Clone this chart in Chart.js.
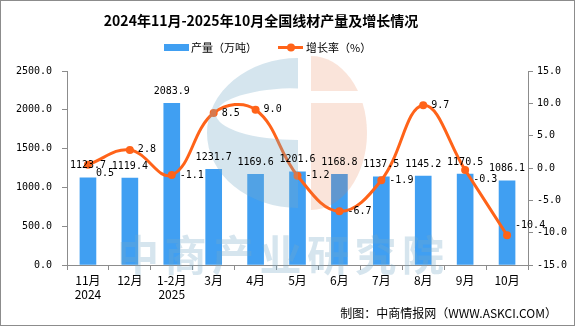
<!DOCTYPE html>
<html lang="zh">
<head>
<meta charset="UTF-8">
<title>全国线材产量及增长情况</title>
<script src="https://cdn.jsdelivr.net/npm/chart.js@4.4.0/dist/chart.umd.min.js"></script>
<style>
  html, body { margin: 0; padding: 0; background: #fff; }
  #wrap { width: 575px; height: 326px; }
</style>
</head>
<body>
<div id="wrap"><canvas id="myChart" width="575" height="326"></canvas></div>
<script>
  // data
  const months = [['11月', '2024'], '12月', ['1-2月', '2025'], '3月', '4月', '5月', '6月', '7月', '8月', '9月', '10月'];
  const output = [1123.7, 1119.4, 2083.9, 1231.7, 1169.6, 1201.6, 1168.8, 1137.5, 1145.2, 1170.5, 1086.1];
  const growth = [0.5, 2.8, -1.1, 8.5, 9.0, -1.2, -6.7, -1.9, 9.7, -0.3, -10.4];
  const leftTicks = [0, 500, 1000, 1500, 2000, 2500];
  const rightTicks = [-15, -10, -5, 0, 5, 10, 15];

  const titleText = '2024年11月-2025年10月全国线材产量及增长情况';
  const barName = '产量（万吨）';
  const lineName = '增长率（%）';
  const footText = '制图：中商情报网（WWW.ASKCI.COM）';

  const BLUE = '#409ff2';
  const ORANGE = '#ff6319';
  const AXIS = '#8c8c8c';
  const monoFont = { family: '"DejaVu Sans Mono", "Noto Sans CJK SC", monospace', size: 10 };
  const cjk = '"Noto Sans CJK SC", "DejaVu Sans", sans-serif';

  function drawLogo(ctx) {
    ctx.save();
    // blue "C"
    ctx.fillStyle = 'rgba(120,170,200,0.31)';
    ctx.beginPath();
    ctx.ellipse(298, 133, 91, 75, 0, Math.PI / 2, Math.PI * 1.5);
    ctx.closePath();
    ctx.moveTo(298, 88);
    ctx.ellipse(298, 114, 82, 26, 0, -Math.PI / 2, -Math.PI * 1.5, true);
    ctx.closePath();
    ctx.fill('evenodd');
    // orange half disc cut by a white band
    ctx.beginPath();
    ctx.rect(311, 0, 120, 91);
    ctx.rect(311, 103, 120, 200);
    ctx.clip();
    ctx.fillStyle = 'rgba(230,120,70,0.2)';
    ctx.beginPath();
    ctx.ellipse(311, 133, 56, 77, 0, -Math.PI / 2, Math.PI / 2);
    ctx.closePath();
    ctx.fill();
    ctx.restore();

    ctx.save();
    ctx.fillStyle = 'rgba(120,170,200,0.3)';
    ctx.font = 'bold 42px ' + cjk;
    ctx.textBaseline = 'middle';
    ctx.textAlign = 'left';
    const word = '中商产业研究院';
    for (let i = 0; i < word.length; i++) {
      ctx.fillText(word[i], 117 + i * 47.5, 255);
    }
    ctx.restore();
  }

  const extras = {
    id: 'extras',
    afterDatasetsDraw(chart) {
      const ctx = chart.ctx;
      drawLogo(ctx);

      ctx.save();
      ctx.font = monoFont.size + 'px ' + monoFont.family;
      ctx.fillStyle = '#000';
      ctx.textBaseline = 'middle';

      // bar value labels
      const bars = chart.getDatasetMeta(1).data;
      const boxes = [];
      ctx.textAlign = 'center';
      bars.forEach((b, i) => {
        const t = output[i].toFixed(1);
        const w = ctx.measureText(t).width;
        const y = b.y - 12;
        ctx.fillText(t, b.x, y);
        boxes.push({ l: b.x - w / 2, r: b.x + w / 2, t: y - 5, b: y + 5 });
      });

      // line value labels, nudged off the bar labels
      const pts = chart.getDatasetMeta(0).data;
      ctx.textAlign = 'left';
      pts.forEach((p, i) => {
        const t = growth[i].toFixed(1);
        const w = ctx.measureText(t).width;
        const x = p.x + 8;
        let y = p.y;
        const hit = boxes.some(bx => x < bx.r && x + w > bx.l && y - 5 < bx.b && y + 5 > bx.t);
        if (hit) y += 9;
        else if (x + w > chart.chartArea.right) y -= 10;
        ctx.fillText(t, x, y);
      });
      ctx.restore();
    },
    afterDraw(chart) {
      const ctx = chart.ctx;
      ctx.save();
      // title
      ctx.fillStyle = '#000';
      ctx.font = 'bold 14px ' + cjk;
      ctx.textAlign = 'center';
      ctx.textBaseline = 'middle';
      ctx.fillText(titleText, 261, 21);

      // legend
      ctx.font = '11px ' + cjk;
      ctx.textAlign = 'left';
      ctx.fillStyle = BLUE;
      ctx.fillRect(164, 44, 25, 7);
      ctx.fillStyle = '#000';
      ctx.fillText(barName, 191, 48);
      ctx.strokeStyle = ORANGE;
      ctx.lineWidth = 3;
      ctx.beginPath();
      ctx.moveTo(278, 47.5);
      ctx.lineTo(303, 47.5);
      ctx.stroke();
      ctx.fillStyle = ORANGE;
      ctx.beginPath();
      ctx.arc(291, 47.5, 4, 0, Math.PI * 2);
      ctx.fill();
      ctx.fillStyle = '#000';
      ctx.fillText(lineName, 306, 48);

      // source note
      ctx.font = '12px ' + cjk;
      ctx.textAlign = 'right';
      ctx.fillText(footText, 557, 313);

      // frame
      ctx.strokeStyle = AXIS;
      ctx.lineWidth = 1;
      ctx.strokeRect(0.5, 0.5, 574, 325);
      ctx.restore();
    }
  };

  const tickFmt = v => Number(v).toFixed(1);

  new Chart(document.getElementById('myChart'), {
    data: {
      labels: months,
      datasets: [
        {
          type: 'line',
          label: lineName,
          data: growth,
          yAxisID: 'y1',
          borderColor: ORANGE,
          backgroundColor: ORANGE,
          borderWidth: 3,
          tension: 0.4,
          pointRadius: 4,
          pointBorderWidth: 0,
          order: 0
        },
        {
          type: 'bar',
          label: barName,
          data: output,
          yAxisID: 'y',
          backgroundColor: BLUE,
          barThickness: 16,
          order: 1
        }
      ]
    },
    options: {
      responsive: false,
      animation: false,
      layout: { padding: { top: 71, left: 1, right: 0, bottom: 0 } },
      plugins: {
        legend: { display: false },
        title: { display: false },
        tooltip: { enabled: false }
      },
      scales: {
        x: {
          grid: { drawOnChartArea: false, offset: true, tickLength: 5, color: AXIS },
          border: { color: AXIS },
          ticks: { font: { family: cjk, size: 12 }, color: '#000', padding: 3, maxRotation: 0, autoSkip: false },
          afterFit: s => { s.height = 61; }
        },
        y: {
          position: 'left',
          min: leftTicks[0],
          max: leftTicks[leftTicks.length - 1],
          grid: { drawOnChartArea: false, tickLength: 5, color: AXIS },
          border: { color: AXIS },
          ticks: { stepSize: leftTicks[1] - leftTicks[0], callback: tickFmt, font: monoFont, color: '#000', padding: 10 },
          afterFit: s => { s.width = 66; }
        },
        y1: {
          position: 'right',
          min: rightTicks[0],
          max: rightTicks[rightTicks.length - 1],
          grid: { drawOnChartArea: false, tickLength: 5, color: AXIS },
          border: { color: AXIS },
          ticks: { stepSize: rightTicks[1] - rightTicks[0], callback: tickFmt, font: monoFont, color: '#000', padding: 4 },
          afterFit: s => { s.width = 47; }
        }
      }
    },
    plugins: [extras]
  });
</script>
</body>
</html>
